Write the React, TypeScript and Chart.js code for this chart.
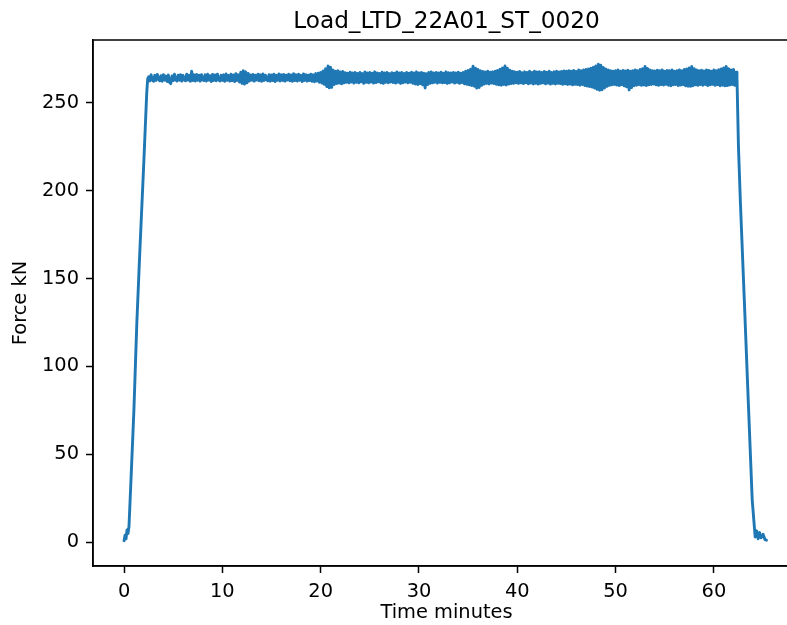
import React, { useEffect, useRef } from "react";
import { Chart, registerables } from "chart.js";
Chart.register(...registerables);

const titleText = "Load_LTD_22A01_ST_0020";
const xLabel = "Time minutes";
const yLabel = "Force kN";
const xTicks = [0, 10, 20, 30, 40, 50, 60];
const yTicks = [0, 50, 100, 150, 200, 250];

// loading ramp
const rampTime = [0.0, 0.1, 0.2, 0.3, 0.4, 0.5, 0.7, 1.0, 1.3, 1.6, 2.0, 2.3, 2.4];
const rampForce = [0.9, 4.0, 2.0, 7.0, 5.0, 9.0, 35.0, 75.0, 125.0, 165.0, 215.0, 255.0, 263.5];

// hold plateau, sampled every 0.125 min from 2.5 min
const plateauStart = 2.5;
const plateauStep = 0.125;
const plateauForce = [
  264.8, 262.4, 265.9, 263.0, 262.3, 265.6, 262.7, 266.1, 263.4, 262.5,
  265.4, 262.2, 266.0, 262.9, 265.2, 262.1, 265.8, 261.6, 260.9, 265.3,
  262.6, 266.2, 263.1, 262.4, 265.7, 262.8, 266.0, 262.3, 265.5, 263.0,
  262.5, 266.3, 262.9, 265.6, 262.2, 267.9, 262.6, 265.9, 262.4, 266.1,
  262.8, 265.7, 262.3, 266.0, 263.2, 262.6, 265.9, 262.4, 266.2, 262.9,
  265.4, 262.1, 266.1, 262.7, 265.8, 262.5, 266.3, 263.0, 262.4, 265.6,
  262.7, 265.9, 262.2, 266.4, 262.8, 265.5, 262.3, 266.2, 262.6, 265.8,
  262.1, 266.5, 262.7, 265.9, 261.8, 267.4, 261.0, 268.2, 260.6, 267.6,
  261.3, 266.7, 262.4, 265.8, 262.8, 266.1, 262.3, 265.6, 262.9, 266.3,
  262.5, 265.9, 262.2, 266.4, 262.7, 265.7, 263.1, 262.5, 266.0, 262.3,
  265.8, 262.6, 266.2, 262.1, 265.6, 262.8, 266.4, 262.4, 265.9, 262.7,
  266.1, 262.3, 265.7, 262.9, 266.3, 262.5, 265.8, 262.2, 266.5, 262.6,
  265.9, 262.4, 266.2, 262.8, 265.6, 262.1, 266.4, 262.7, 266.0, 262.3,
  265.7, 262.6, 266.3, 262.2, 265.9, 261.9, 266.6, 262.4, 266.8, 261.7,
  267.3, 261.2, 268.1, 260.5, 269.4, 259.2, 270.9, 258.5, 270.2, 258.8,
  268.6, 260.4, 267.9, 260.9, 268.3, 261.2, 267.5, 260.8, 267.8, 261.4,
  267.1, 261.6, 266.8, 261.3, 267.4, 261.8, 266.9, 261.2, 267.2, 261.7,
  266.7, 261.4, 267.3, 261.9, 266.6, 261.1, 267.5, 261.6, 266.9, 261.3,
  267.2, 261.8, 266.8, 261.2, 267.6, 261.5, 267.0, 261.9, 266.7, 261.4,
  267.4, 261.1, 266.9, 261.7, 267.3, 261.3, 266.6, 261.8, 267.1, 261.5,
  266.8, 261.2, 267.5, 261.6, 266.9, 261.0, 267.3, 261.4, 266.7, 261.8,
  267.2, 261.3, 266.8, 261.7, 267.4, 261.1, 266.9, 260.7, 267.6, 260.4,
  267.0, 260.9, 267.3, 260.2, 266.8, 258.4, 266.5, 260.3, 267.2, 261.1,
  267.5, 261.4, 266.9, 261.7, 267.3, 261.2, 267.0, 261.6, 267.4, 261.3,
  266.8, 261.5, 267.6, 261.0, 267.1, 261.4, 266.9, 261.8, 267.3, 261.2,
  267.0, 261.6, 267.4, 261.1, 266.8, 261.5, 267.2, 260.8, 267.9, 260.5,
  268.4, 260.2, 269.1, 259.8, 270.8, 259.4, 269.6, 258.3, 268.9, 258.7,
  268.2, 259.9, 267.8, 260.6, 267.5, 261.0, 267.9, 260.7, 267.4, 261.2,
  267.6, 260.9, 268.0, 260.5, 268.4, 260.2, 269.1, 260.0, 269.8, 260.4,
  270.9, 260.1, 269.6, 260.6, 268.5, 260.9, 268.0, 261.1, 267.6, 261.3,
  267.4, 261.0, 267.8, 261.3, 267.1, 260.9, 267.6, 261.5, 267.2, 260.8,
  267.9, 261.2, 267.3, 260.7, 268.0, 261.1, 267.5, 260.6, 267.7, 261.0,
  267.2, 261.3, 267.8, 260.8, 267.4, 261.2, 267.9, 260.6, 267.3, 261.0,
  267.6, 260.7, 268.0, 261.1, 267.5, 260.9, 267.8, 260.5, 268.1, 260.8,
  267.9, 260.4, 268.3, 260.6, 268.0, 260.2, 268.4, 260.5, 267.8, 260.3,
  268.6, 260.0, 268.2, 260.4, 268.7, 259.8, 268.9, 259.5, 269.3, 259.2,
  269.6, 258.9, 270.2, 258.3, 271.0, 257.6, 271.9, 257.1, 271.3, 257.4,
  270.1, 258.4, 269.2, 259.3, 268.6, 259.9, 268.3, 260.2, 268.0, 260.4,
  268.2, 260.1, 268.6, 259.8, 268.0, 260.3, 268.4, 259.6, 268.1, 259.1,
  268.5, 257.3, 268.0, 258.6, 268.3, 259.7, 268.7, 260.0, 268.2, 260.3,
  268.9, 259.9, 269.4, 260.1, 270.6, 259.8, 269.5, 260.2, 268.7, 260.4,
  268.3, 260.6, 268.1, 260.2, 268.5, 259.9, 268.2, 260.3, 268.6, 260.1,
  268.0, 260.5, 268.4, 260.0, 268.2, 259.7, 268.6, 260.2, 267.9, 260.4,
  268.3, 259.8, 268.7, 260.1, 268.2, 260.3, 268.9, 259.6, 269.3, 259.4,
  269.8, 259.3, 270.6, 259.7, 269.4, 260.2, 268.6, 259.9, 268.3, 260.3,
  268.5, 260.0, 268.1, 260.4, 268.7, 259.8, 268.4, 260.2, 268.0, 260.5,
  268.6, 259.9, 268.2, 260.3, 268.8, 259.7, 269.2, 260.0, 269.8, 259.6,
  270.6, 259.8, 269.4, 260.1, 268.6, 260.3, 269.0, 259.9, 267.4,
];

// unloading
const dropTime = [62.35, 62.5, 62.7, 63.1, 63.5, 63.9, 64.2, 64.35, 64.5, 64.65, 64.8, 65.0, 65.2, 65.35];
const dropForce = [264.0, 225.0, 193.0, 137.0, 80.0, 24.0, 3.0, 6.5, 2.0, 5.5, 2.5, 4.5, 1.5, 1.2];

const FONT = "'DejaVu Sans', 'Liberation Sans', sans-serif";

export default function App() {
  const ref = useRef<HTMLCanvasElement>(null);
  useEffect(() => {
    if (!ref.current) return;
    const pts: { x: number; y: number }[] = [];
    rampTime.forEach((t, i) => pts.push({ x: t, y: rampForce[i] }));
    plateauForce.forEach((f, i) => pts.push({ x: plateauStart + i * plateauStep, y: f }));
    dropTime.forEach((t, i) => pts.push({ x: t, y: dropForce[i] }));

    const frame = {
      id: "frame",
      afterDraw(chart: any) {
        const { ctx, chartArea } = chart;
        ctx.save();
        ctx.strokeStyle = "#000";
        ctx.lineWidth = 1.5;
        ctx.strokeRect(chartArea.left, chartArea.top, chartArea.right - chartArea.left, chartArea.bottom - chartArea.top);
        ctx.fillStyle = "#000";
        ctx.font = `23.2px ${FONT}`;
        ctx.textAlign = "center";
        ctx.textBaseline = "alphabetic";
        ctx.fillText(titleText, (chartArea.left + chartArea.right) / 2, chartArea.top - 11.6);
        ctx.restore();
      },
    };

    const tickFont = { family: FONT, size: 19.4, weight: "normal" as const, lineHeight: 1.2 };
    const chart = new Chart(ref.current, {
      type: "line",
      data: {
        datasets: [
          {
            data: pts,
            borderColor: "#1f77b4",
            backgroundColor: "#1f77b4",
            borderWidth: 2.9,
            pointRadius: 0,
            tension: 0,
            fill: false,
            borderJoinStyle: "round",
            borderCapStyle: "round",
          },
        ],
      },
      options: {
        responsive: false,
        animation: false,
        devicePixelRatio: 1,
        layout: { padding: { top: 40, left: 0, right: 0, bottom: 0 } },
        plugins: {
          legend: { display: false },
          tooltip: { enabled: false },
          title: { display: false },
        },
        scales: {
          x: {
            type: "linear",
            min: -3.16,
            max: 68.76,
            afterBuildTicks: (s: any) => {
              s.ticks = xTicks.map((v) => ({ value: v }));
            },
            afterFit: (s: any) => {
              s.height = 59;
            },
            grid: { drawOnChartArea: false, drawTicks: true, tickLength: 7, tickWidth: 1.5, tickColor: "#000", color: "#000" },
            border: { display: true, color: "#000", width: 1.5 },
            ticks: { color: "#000", font: tickFont, padding: 7, maxRotation: 0, autoSkip: false },
            title: { display: true, text: xLabel, color: "#000", font: tickFont, padding: { top: 0, bottom: 0 } },
          },
          y: {
            type: "linear",
            min: -13.5,
            max: 285.7,
            afterBuildTicks: (s: any) => {
              s.ticks = yTicks.map((v) => ({ value: v }));
            },
            afterFit: (s: any) => {
              s.width = 93;
            },
            grid: { drawOnChartArea: false, drawTicks: true, tickLength: 7, tickWidth: 1.5, tickColor: "#000", color: "#000" },
            border: { display: true, color: "#000", width: 1.5 },
            ticks: { color: "#000", font: tickFont, padding: 7, autoSkip: false },
            title: { display: true, text: yLabel, color: "#000", font: tickFont, padding: { top: 9.4, bottom: 0 } },
          },
        },
      },
      plugins: [frame],
    });
    return () => chart.destroy();
  }, []);

  return (
    <div style={{ position: "fixed", left: 0, top: 0, width: 787, height: 625, overflow: "hidden", background: "#fff" }}>
      <canvas ref={ref} width={800} height={625} style={{ display: "block", width: 800, height: 625 }} />
    </div>
  );
}
